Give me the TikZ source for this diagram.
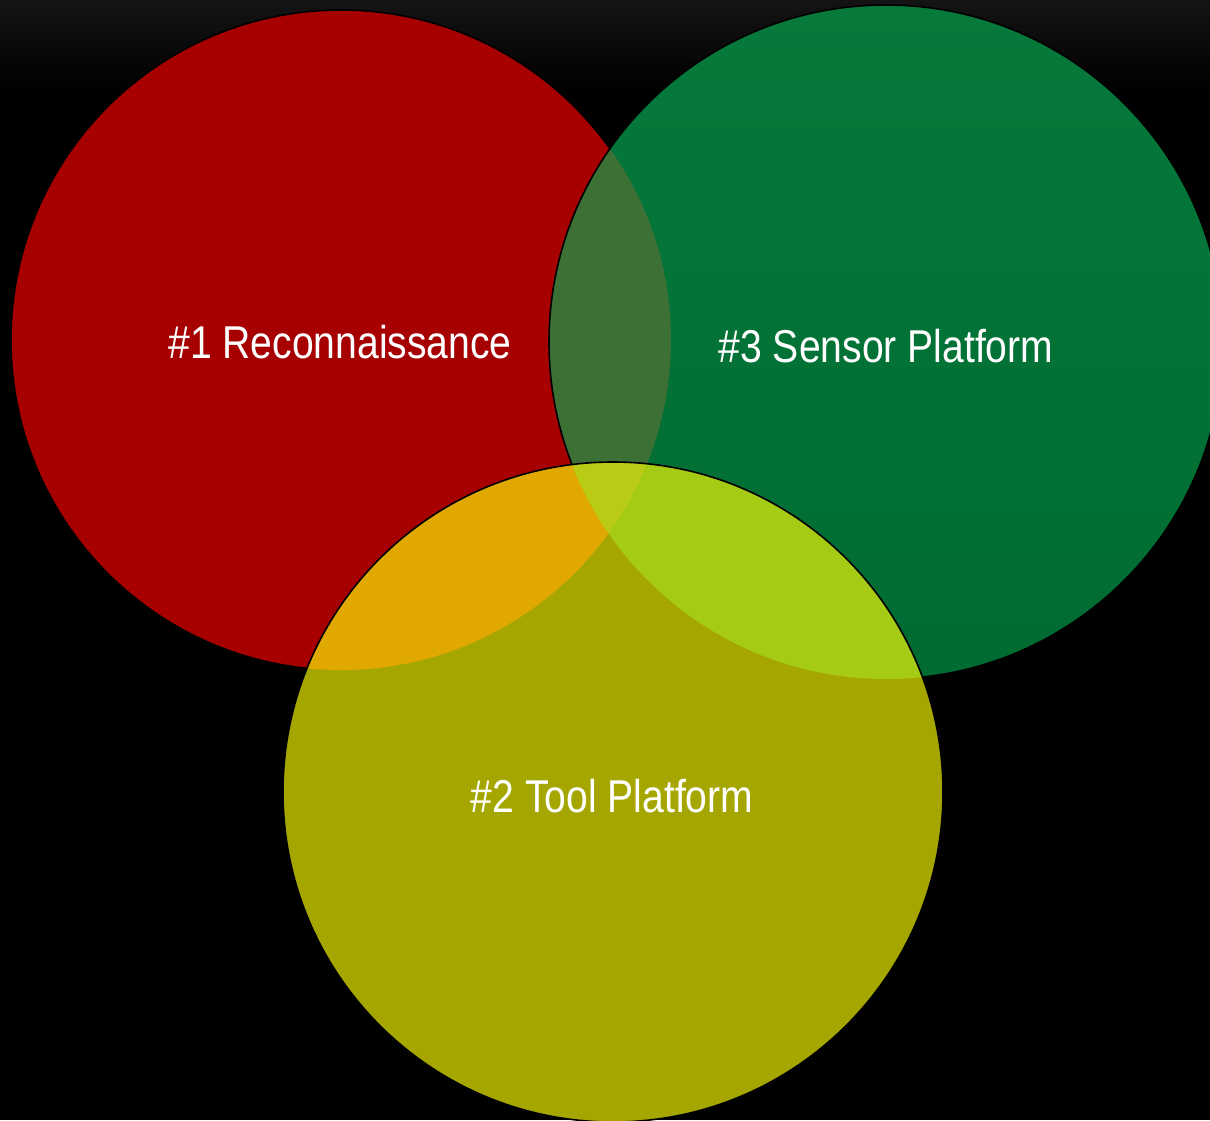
\documentclass[tikz,border=0pt]{standalone}
\usepackage{fontspec}
\setmainfont{Liberation Sans}[FakeStretch=0.85]
\begin{document}
\begin{tikzpicture}[x=1pt,y=-1pt,
  lbl/.style={text=white,font=\fontsize{46}{50}\selectfont,anchor=base,inner sep=0pt},
  rim/.style={draw=black,line width=1.6pt}]
\definecolor{cred}{HTML}{A60000}
\definecolor{cgreenT}{HTML}{06793B}
\definecolor{cgreenB}{HTML}{006B32}
\definecolor{cgreen}{HTML}{007035}
\definecolor{cyel}{HTML}{A6A600}
\definecolor{cRG}{HTML}{3D7035}
\definecolor{cRY}{HTML}{E0A800}
\definecolor{cGY}{HTML}{A6CB14}
\definecolor{cRGY}{HTML}{B9CB14}
\def\Rc{(341,340) circle[radius=330]}
\def\Gc{(886,342) circle[radius=337]}
\def\Yc{(613,792) circle[radius=330]}
\useasboundingbox (0,0) rectangle (1210,1120);
\fill[black] (0,0) rectangle (1210,1120);
\shade[top color={rgb,255:red,20;green,20;blue,20}, bottom color=black] (0,0) rectangle (1210,90);
% base fills
\fill[cred] \Rc;
\shade[top color=cgreenT,bottom color=cgreenB] \Gc;
\fill[cyel] \Yc;
% lenses
\begin{scope}
  \clip \Rc; \fill[cRG] \Gc;
\end{scope}
\begin{scope}
  \clip \Rc; \fill[cRY] \Yc;
\end{scope}
\begin{scope}
  \clip \Gc; \fill[cGY] \Yc;
\end{scope}
\begin{scope}
  \clip \Rc; \clip \Gc; \fill[cRGY] \Yc;
\end{scope}
% outlines
\begin{scope}[even odd rule]
  \clip (-10,-10) rectangle (1230,1140) \Gc;
  \clip (-10,-10) rectangle (1230,1140) \Yc;
  \draw[rim] \Rc;
\end{scope}
\begin{scope}[even odd rule]
  \clip (-10,-10) rectangle (1230,1140) \Yc;
  \draw[rim] \Gc;
\end{scope}
\draw[rim] \Yc;
% labels
\node[lbl] (t1) at (340,358) {\#1 Reconnaissance};
\node[lbl] (t3) at (886,362) {\#3 Sensor Platform};
\node[lbl] (t2) at (612,812) {\#2 Tool Platform};
\end{tikzpicture}
\end{document}
